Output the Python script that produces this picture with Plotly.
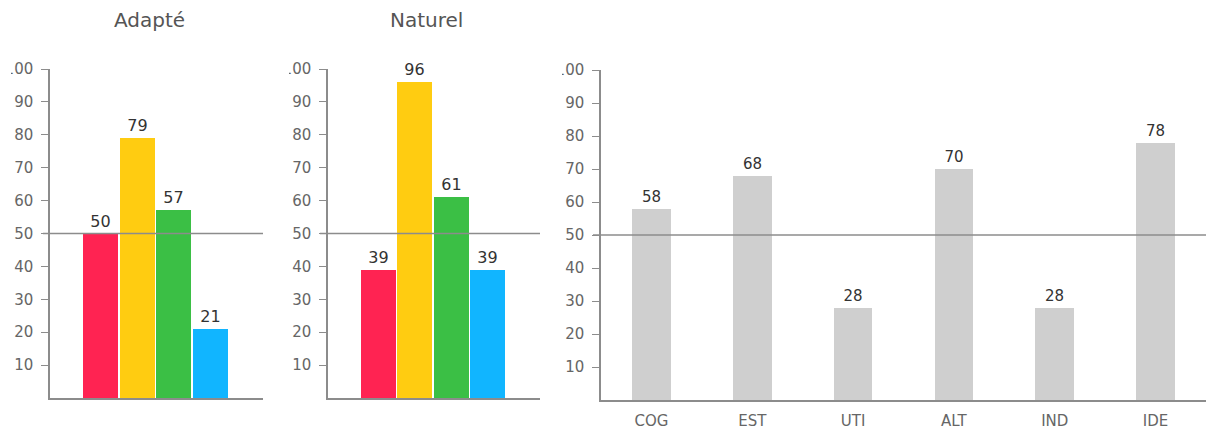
import plotly.graph_objects as go

# ---- data ----
titles = ["Adapté", "Naturel"]
adapte_values = [50, 79, 57, 21]
naturel_values = [39, 96, 61, 39]
bar_colors = ["#FF2352", "#FFCC11", "#3BBF45", "#11B5FF"]
facet_categories = ["COG", "EST", "UTI", "ALT", "IND", "IDE"]
facet_values = [58, 68, 28, 70, 28, 78]
y_ticks = [10, 20, 30, 40, 50, 60, 70, 80, 90, 100]
threshold = 50

W, H = 1213, 432

def px_x(p):
    return p / W

def px_y(p):
    return 1 - p / H

fig = go.Figure()

group_x = [0, 1, 2, 3]
fig.add_trace(go.Bar(x=group_x, y=adapte_values, marker=dict(color=bar_colors, line=dict(width=0)),
                     width=0.955, text=adapte_values, textposition="outside", cliponaxis=False,
                     textfont=dict(size=16, color="#333333"), xaxis="x", yaxis="y", hoverinfo="y"))
fig.add_trace(go.Bar(x=group_x, y=naturel_values, marker=dict(color=bar_colors, line=dict(width=0)),
                     width=0.955, text=naturel_values, textposition="outside", cliponaxis=False,
                     textfont=dict(size=16, color="#333333"), xaxis="x2", yaxis="y2", hoverinfo="y"))
fig.add_trace(go.Bar(x=facet_categories, y=facet_values, marker=dict(color="#CFCFCF", line=dict(width=0)),
                     width=0.385, text=facet_values, textposition="outside", cliponaxis=False,
                     textfont=dict(size=15, color="#333333"), xaxis="x3", yaxis="y3", hoverinfo="y"))

axis_color = "#8C8C8C"
tickfont = dict(family="DejaVu Sans", size=15, color="#666666")

def yaxis(domain, anchor):
    return dict(domain=domain, anchor=anchor, range=[0, 100], tickvals=y_ticks,
                ticks="outside", ticklen=7, tickcolor=axis_color, tickwidth=1,
                ticklabelstandoff=5,
                showline=True, linecolor=axis_color, linewidth=1.5,
                showgrid=False, zeroline=False, tickfont=tickfont, fixedrange=True,
                automargin=False)

def xaxis_num(domain, anchor):
    return dict(domain=domain, anchor=anchor, range=[-1.376, 4.43], showticklabels=False,
                ticks="", showline=True, linecolor=axis_color, linewidth=1.5,
                showgrid=False, zeroline=False, fixedrange=True, automargin=False)

y12 = [px_y(398), px_y(69)]
y3 = [px_y(400), px_y(70)]

fig.update_layout(
    width=W, height=H, autosize=False,
    margin=dict(l=0, r=0, t=0, b=0, pad=0, autoexpand=False),
    paper_bgcolor="white", plot_bgcolor="white",
    showlegend=False, bargap=0,
    font=dict(family="DejaVu Sans", color="#555555"),
    xaxis=xaxis_num([px_x(50), px_x(263)], "y"),
    yaxis=yaxis(y12, "x"),
    xaxis2=xaxis_num([px_x(328), px_x(540)], "y2"),
    yaxis2=yaxis(y12, "x2"),
    xaxis3=dict(domain=[px_x(601), px_x(1206)], anchor="y3", range=[-0.5, 5.5],
                showline=True, linecolor=axis_color, linewidth=1.5, ticks="",
                ticklabelstandoff=6,
                showgrid=False, zeroline=False, tickfont=dict(family="DejaVu Sans", size=15, color="#666666"),
                fixedrange=True, automargin=False),
    yaxis3=yaxis(y3, "x3"),
)

# titles
fig.add_annotation(text=titles[0], x=px_x(149), y=px_y(20), xref="paper", yref="paper",
                   showarrow=False, font=dict(size=20, color="#555555"), xanchor="center", yanchor="middle")
fig.add_annotation(text=titles[1], x=px_x(426), y=px_y(20), xref="paper", yref="paper",
                   showarrow=False, font=dict(size=20, color="#555555"), xanchor="center", yanchor="middle")

# threshold lines (start at tick mark, run to end of axis)
for xa, ya, x0px, x1px in [("x", "y", 43, 263), ("x2", "y2", 320, 540), ("x3", "y3", 593, 1206)]:
    fig.add_shape(type="line", xref="paper", yref=ya, x0=px_x(x0px), x1=px_x(x1px),
                  y0=threshold, y1=threshold, line=dict(color="#8C8C8C", width=1.5), layer="above")

# panel clipping of the leftmost digit of the "100" labels
for xl, xr in [(0, 11), (268, 289), (545, 562)]:
    fig.add_shape(type="rect", xref="paper", yref="paper", x0=px_x(xl), x1=px_x(xr),
                  y0=px_y(82), y1=px_y(56), fillcolor="white", line=dict(width=0), layer="above")

fig.write_html("out.html", config={"displayModeBar": False},
               post_script="document.body.style.margin='0';document.body.style.overflow='hidden';")
